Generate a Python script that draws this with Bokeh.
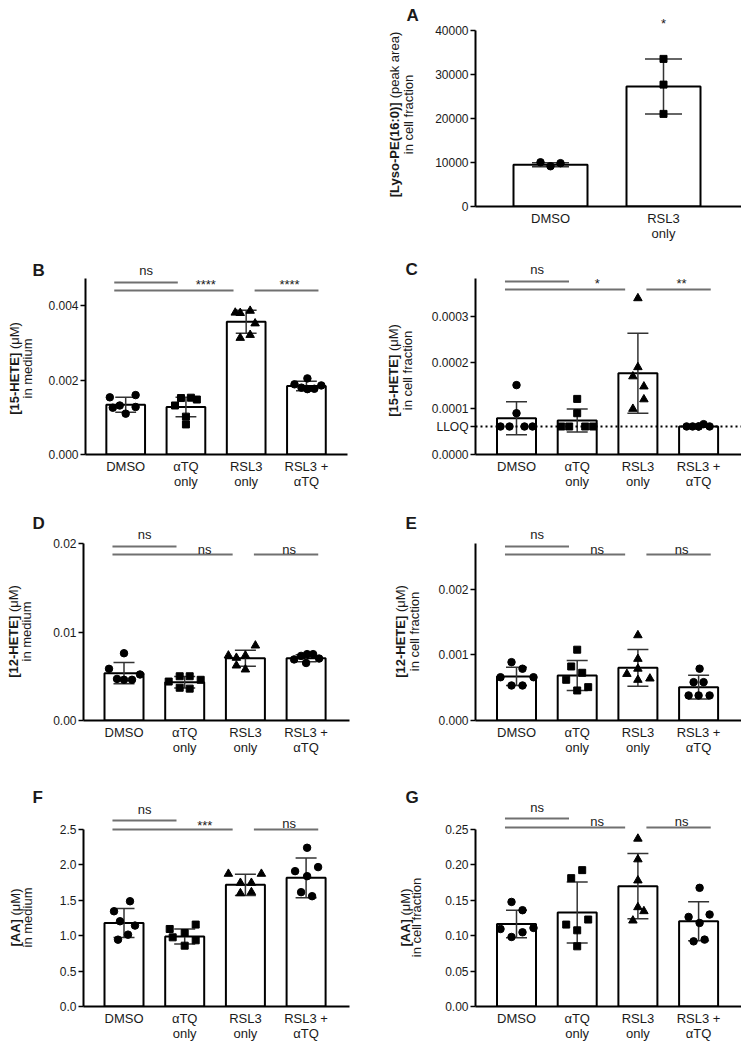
import math
from bokeh.plotting import figure
from bokeh.models import Range1d, Label, Spacer, FixedTicker
from bokeh.layouts import column, row
from bokeh.embed import file_html
from bokeh.resources import INLINE

FONT = "Liberation Sans"

# ---------------- data ----------------
cats4 = ["DMSO", "αTQ\nonly", "RSL3\nonly", "RSL3 +\nαTQ"]
catsA = ["DMSO", "RSL3\nonly"]

# Panel A  [Lyso-PE(16:0)] peak area
A_mean = [9500, 27300]
A_sd = [450, 6250]
A_pts = [[10050, 9150, 9850], [33550, 27700, 21050]]
A_ticks = [0, 10000, 20000, 30000, 40000]
A_tick_labels = ["0", "10000", "20000", "30000", "40000"]

# Panel B  [15-HETE] medium
B_mean = [0.00134, 0.00128, 0.003576, 0.001846]
B_sd = [0.00020, 0.00026, 0.00031, 0.00013]
B_pts = [[0.00154, 0.00160, 0.00132, 0.00128, 0.00126, 0.00110],
         [0.00132, 0.00152, 0.00153, 0.00148, 0.00102, 0.00081],
         [0.00382, 0.00381, 0.00387, 0.00353, 0.00314, 0.00322],
         [0.00189, 0.00180, 0.00205, 0.00176, 0.00177, 0.00186]]
B_ticks = [0, 0.002, 0.004]
B_tick_labels = ["0.000", "0.002", "0.004"]

# Panel C  [15-HETE] cell fraction
C_mean = [0.0000789, 0.0000739, 0.0001768, 0.0000612]
C_sd = [0.000036, 0.000025, 0.000087, 0.000002]
C_pts = [[0.000151, 0.0000898, 0.0000609, 0.0000609, 0.0000609, 0.0000609],
         [0.000121, 0.0000898, 0.0000609, 0.0000609, 0.0000609, 0.0000609],
         [0.00034, 0.00019, 0.00017, 0.000148, 0.00012, 0.0000993],
         [0.000061, 0.000061, 0.000061, 0.000066, 0.000061, 0.000061]]
C_ticks = [0, 0.0001, 0.0002, 0.0003]
C_tick_labels = ["0.0000", "0.0001", "0.0002", "0.0003"]
C_lloq = 0.0000609
C_lloq_label = "LLOQ"

# Panel D  [12-HETE] medium
D_mean = [0.00535, 0.00432, 0.00704, 0.00704]
D_sd = [0.0012, 0.00065, 0.0009, 0.0004]
D_pts = [[0.0076, 0.00584, 0.0052, 0.0047, 0.0046, 0.0046],
         [0.0050, 0.0050, 0.0044, 0.0046, 0.0037, 0.0036],
         [0.00734, 0.00708, 0.00734, 0.00847, 0.00621, 0.00576],
         [0.0069, 0.0073, 0.0075, 0.0075, 0.0070, 0.0065]]
D_ticks = [0, 0.01, 0.02]
D_tick_labels = ["0.00", "0.01", "0.02"]

# Panel E  [12-HETE] cell fraction
E_mean = [0.000672, 0.000687, 0.000804, 0.000509]
E_sd = [0.00014, 0.00023, 0.00028, 0.00018]
E_pts = [[0.00089, 0.00079, 0.00066, 0.00066, 0.000534, 0.000534],
         [0.00108, 0.000824, 0.000728, 0.000621, 0.000509, 0.000458],
         [0.0013, 0.00094, 0.00079, 0.00071, 0.00064, 0.00062],
         [0.00079, 0.000585, 0.000585, 0.000382, 0.000382, 0.000382]]
E_ticks = [0, 0.001, 0.002]
E_tick_labels = ["0.000", "0.001", "0.002"]

# Panel F  [AA] medium
F_mean = [1.18, 0.99, 1.718, 1.817]
F_sd = [0.205, 0.106, 0.15, 0.28]
F_pts = [[1.487, 1.345, 1.204, 1.143, 1.015, 0.944],
         [1.095, 1.157, 1.038, 0.977, 0.935, 0.859],
         [1.874, 1.874, 1.746, 1.746, 1.615, 1.600],
         [2.242, 1.912, 1.969, 1.841, 1.615, 1.558]]
F_ticks = [0, 0.5, 1.0, 1.5, 2.0, 2.5]
F_tick_labels = ["0.0", "0.5", "1.0", "1.5", "2.0", "2.5"]

# Panel G  [AA] cell fraction
G_mean = [0.1166, 0.1327, 0.170, 0.1204]
G_sd = [0.0195, 0.043, 0.046, 0.0276]
G_pts = [[0.1477, 0.136, 0.1095, 0.111, 0.1048, 0.0982],
         [0.1926, 0.1813, 0.1228, 0.1157, 0.1076, 0.085],
         [0.237, 0.2078, 0.178, 0.1402, 0.1346, 0.1214],
         [0.1676, 0.1265, 0.1299, 0.118, 0.092, 0.0945]]
G_ticks = [0, 0.05, 0.10, 0.15, 0.20, 0.25]
G_tick_labels = ["0.00", "0.05", "0.10", "0.15", "0.20", "0.25"]

sig_A = ["*"]
sig_B = ["ns", "****", "****"]
sig_C = ["ns", "*", "**"]
sig_D = ["ns", "ns", "ns"]
sig_E = ["ns", "ns", "ns"]
sig_F = ["ns", "***", "ns"]
sig_G = ["ns", "ns", "ns"]

# ---------------- layout constants (pixels) ----------------
J_A = [[-10, 0, 10], [0, 0, 0]]
J_B = [[-16, 10, -6, 10, -13, 0], [-11, -5, 5, 11, 0, 0], [-11, -6, 4, 9, -6, 4], [-12, -5, 1, 1, 8, 15]]
J_C = [[0, 0, -16, -7, 8, 16], [0, 0, -16, -8, 8, 16], [0, 0, -5, 6, 6, -5], [-12, -6, 0, 5, 11, 0]]
J_D = [[0, -15, 16, -7, 0, 8], [-5, 5, -16, 16, -5, 5], [-17, -9, 0, 10, -9, 0], [-12, -5, 1, 7, 13, 0]]
J_E = [[-5, 6, -16, 17, -5, 6], [0, -6, 5, -11, 11, 0], [0, 0, 0, -11, 12, 0], [1, -5, 5, -10, 0, 11]]
J_F = [[6, -10, -4, 11, 4, -6], [-15, 11, 0, -12, 11, 0], [-17, 16, -5, 6, 6, -5], [1, -11, 12, 1, -5, 6]]
J_G = [[-5, 6, -16, 17, 6, -5], [5, -6, 11, -11, 0, 0], [0, 0, 0, 0, 6, -5], [1, -10, 11, 1, -5, 6]]

MARK4 = ["circle", "square", "triangle", "circle"]
MARKA = ["circle", "square"]
MSIZE = {"circle": 7.5, "square": 7, "triangle": 8.5}

SIG_LINES_X = [(-0.19, 0.865), (-0.19, 1.79), (2.14, 3.2)]
SIG_TEXT_X = [0.34, 1.33, 2.72]

REG = {' ': 278, '(': 333, ')': 333, '[': 278, ']': 278, '-': 333, ':': 278, 'A': 667, 'E': 667,
       'H': 722, 'L': 556, 'M': 833, 'P': 667, 'T': 611, 'a': 556, 'c': 500, 'd': 556, 'e': 556,
       'f': 278, 'i': 222, 'k': 500, 'l': 222, 'm': 833, 'n': 556, 'o': 556, 'p': 556, 'r': 333,
       's': 500, 't': 278, 'u': 556, 'y': 500, 'μ': 576}
BOLD = {' ': 278, '(': 333, ')': 333, '[': 333, ']': 333, '-': 333, ':': 333, 'A': 722, 'E': 667,
        'H': 722, 'L': 611, 'P': 667, 'T': 611, 'y': 556, 's': 556, 'o': 611}


def tw(s, table, size):
    return sum(table.get(ch, 556) for ch in s) * size / 1000.0


EB_COLOR = "#333333"
SIG_COLOR = "#707070"
TXT = "#1a1a1a"


def label_fig(box, cfg):
    """Blank canvas holding the panel letter and the y title.
    Its frame shares top/bottom borders with the plot of the same row (Bokeh aligns them),
    so data coordinates are page pixels: x = page_x - ox, y = axis_y - page_y."""
    ox, oy, w, h = box
    ftop, ay = cfg["frame_top"], cfg["axis_y"]
    p = figure(width=w, height=h, x_range=Range1d(0, w), y_range=Range1d(0, ay - ftop),
               x_axis_location=None, y_axis_location=None,
               min_border_left=0, min_border_right=0, min_border_top=ftop - oy,
               min_border_bottom=oy + h - ay,
               output_backend="svg", toolbar_location=None, outline_line_color=None,
               background_fill_color="white", border_fill_color="white")
    p.grid.visible = False

    def PX(x):
        return x - ox

    def PY(y):
        return ay - y

    lx, ly = cfg["letter_pos"]
    p.add_layout(Label(x=PX(lx), y=PY(ly), text=cfg["letter"], text_font=FONT, text_font_size="17px",
                       text_font_style="bold", text_align="left", text_baseline="alphabetic",
                       text_color=TXT))
    size = 13
    bold, reg, line2 = cfg["ylab"]
    x1, x2 = cfg["ylab_x"]
    yc = cfg["ylab_yc"]
    wb, wsp, wr = tw(bold, BOLD, size), tw(" ", REG, size), tw(reg, REG, size)
    w2 = tw(line2, REG, size)
    start = yc + (wb + wsp + wr) / 2
    common = dict(angle=math.pi / 2, text_align="left", text_baseline="middle", text_font=FONT,
                  text_font_size=f"{size}px", text_color=TXT)
    p.add_layout(Label(x=PX(x1), y=PY(start), text=bold, text_font_style="bold", **common))
    p.add_layout(Label(x=PX(x1), y=PY(start - wb - wsp), text=reg, **common))
    p.add_layout(Label(x=PX(x2), y=PY(yc + w2 / 2), text=line2, **common))
    return p


def build(cfg):
    ox, oy, w, h = cfg["box"]
    ax, ay, atop, fr, ftop = cfg["axis_x"], cfg["axis_y"], cfg["axis_top"], cfg["frame_right"], cfg["frame_top"]
    c0, sp = cfg["c0"], cfg["sp"]
    ymax = cfg["ymax"]
    upp = ymax / (ay - atop)

    def X(px):
        return (px - c0) / sp

    def Y(py):
        return (ay - py) * upp

    p = figure(width=w, height=h, x_range=Range1d(X(ax), X(fr)), y_range=Range1d(0, Y(ftop)),
               min_border_left=ax - ox, min_border_right=ox + w - fr,
               min_border_top=ftop - oy, min_border_bottom=oy + h - ay,
               output_backend="svg", toolbar_location=None, outline_line_color=None,
               background_fill_color="white", border_fill_color="white")
    p.xgrid.visible = False
    p.ygrid.visible = False

    n = len(cfg["cats"])
    xs = list(range(n))
    bw = cfg["bar_px"] / sp
    cw = cfg["cap_px"] / sp
    means, sds = cfg["mean"], cfg["sd"]

    p.vbar(x=xs, top=means, width=bw, bottom=0, fill_color="white", line_color="black", line_width=2)
    p.segment(x0=xs, y0=[m - s for m, s in zip(means, sds)], x1=xs, y1=[m + s for m, s in zip(means, sds)],
              line_color=EB_COLOR, line_width=1.5)
    for sgn in (1, -1):
        yy = [m + sgn * s for m, s in zip(means, sds)]
        p.segment(x0=[x - cw for x in xs], y0=yy, x1=[x + cw for x in xs], y1=yy,
                  line_color=EB_COLOR, line_width=1.5)
    if "lloq" in cfg:
        lv = cfg["lloq"]
        p.segment(x0=[X(ax)], x1=[X(fr)], y0=[lv], y1=[lv], line_color="black", line_width=2,
                  line_dash="2 3")
    for i in xs:
        mk = cfg["markers"][i]
        px = [i + j / sp for j in cfg["jit"][i]]
        p.scatter(x=px, y=cfg["pts"][i], marker=mk, size=MSIZE[mk], fill_color="black", line_color="black")

    # axes
    ticks = list(cfg["ticks"])
    labels = list(cfg["tick_labels"])
    if "lloq" in cfg:
        ticks.append(cfg["lloq"])
        labels.append(cfg["lloq_label"])
    p.yaxis.bounds = (0, ymax)
    p.yaxis.ticker = FixedTicker(ticks=ticks)
    p.yaxis.major_label_overrides = {t: l for t, l in zip(ticks, labels)}
    p.yaxis.axis_line_width = 2
    p.yaxis.major_tick_line_width = 1.5
    p.yaxis.major_tick_out = 5
    p.yaxis.major_tick_in = 0
    p.yaxis.minor_tick_out = 0
    p.yaxis.minor_tick_in = 0
    p.yaxis.major_label_standoff = 2
    p.yaxis.major_label_text_font = FONT
    p.yaxis.major_label_text_font_size = "12px"
    p.yaxis.major_label_text_color = TXT

    p.xaxis.ticker = FixedTicker(ticks=xs)
    p.xaxis.major_label_overrides = {i: c for i, c in enumerate(cfg["cats"])}
    p.xaxis.axis_line_width = 2
    p.xaxis.major_tick_line_color = None
    p.xaxis.minor_tick_line_color = None
    p.xaxis.major_tick_out = 0
    p.xaxis.major_tick_in = 0
    p.xaxis.major_label_standoff = 4
    p.xaxis.major_label_text_font = FONT
    p.xaxis.major_label_text_font_size = "13px"
    p.xaxis.major_label_text_line_height = 1.05
    p.xaxis.major_label_text_color = TXT

    # significance bars
    if "sig_lines" in cfg:
        l1, l2 = cfg["sig_lines"]
        t1, t2, t3 = cfg["sig_text_y"]
        ys = [Y(ay - l1), Y(ay - l2), Y(ay - l2)]
        p.segment(x0=[a for a, b in SIG_LINES_X], x1=[b for a, b in SIG_LINES_X], y0=ys, y1=ys,
                  line_color=SIG_COLOR, line_width=2)
        for tx, ty, txt in zip(SIG_TEXT_X, (t1, t2, t3), cfg["sig"]):
            p.add_layout(Label(x=tx, y=Y(ay - ty), text=txt, text_align="center", text_baseline="alphabetic",
                               text_font=FONT, text_font_size="13px", text_color=TXT))
    if "star" in cfg:
        sx, sy = cfg["star"]
        p.add_layout(Label(x=sx, y=Y(ay - sy), text=cfg["sig"][0], text_align="center",
                           text_baseline="alphabetic", text_font=FONT, text_font_size="13px", text_color=TXT))
    return p


common4 = dict(cats=cats4, markers=MARK4, sp=60.7, bar_px=39, cap_px=10.5)

# (x, width) of the label strip and of the plot, per column
LEFT_LAB, LEFT_PLOT = (0, 45), (45, 327)
RIGHT_LAB, RIGHT_PLOT = (372, 54), (426, 315)

cfgA = dict(cats=catsA, markers=MARKA, row=(0, 245), col="R", axis_x=475, axis_y=206, axis_top=30,
            frame_right=741, frame_top=2, c0=550, sp=113, bar_px=74, cap_px=18.5, ymax=40000,
            mean=A_mean, sd=A_sd, pts=A_pts, jit=J_A, ticks=A_ticks, tick_labels=A_tick_labels,
            letter="A", letter_pos=(406, 15), ylab=("[Lyso-PE(16:0)]", "(peak area)", "in cell fraction"),
            ylab_x=(394, 408), ylab_yc=114, star=(1, 183), sig=sig_A)

cfgB = dict(common4, row=(245, 255), col="L", axis_x=83, axis_y=454, axis_top=278, frame_right=347,
            frame_top=247, c0=123.5, ymax=0.00474, mean=B_mean, sd=B_sd, pts=B_pts, jit=J_B,
            ticks=B_ticks, tick_labels=B_tick_labels, letter="B", letter_pos=(32, 270),
            ylab=("[15-HETE]", "(μM)", "in medium"), ylab_x=(14, 27), ylab_yc=368,
            sig=sig_B, sig_lines=(172, 164), sig_text_y=(184, 170, 170))

cfgC = dict(common4, row=(245, 255), col="R", axis_x=475, axis_y=454, axis_top=278, frame_right=741,
            frame_top=247, c0=516, ymax=0.000383, mean=C_mean, sd=C_sd, pts=C_pts, jit=J_C,
            ticks=C_ticks, tick_labels=C_tick_labels, letter="C", letter_pos=(405, 269),
            ylab=("[15-HETE]", "(μM)", "in cell fraction"), ylab_x=(393, 407), ylab_yc=370,
            sig=sig_C, sig_lines=(173, 165), sig_text_y=(185, 171, 171), lloq=C_lloq, lloq_label=C_lloq_label)

cfgD = dict(common4, row=(500, 282), col="L", axis_x=83, axis_y=720, axis_top=543, frame_right=349,
            frame_top=502, c0=123.5, ymax=0.02, mean=D_mean, sd=D_sd, pts=D_pts, jit=J_D,
            ticks=D_ticks, tick_labels=D_tick_labels, letter="D", letter_pos=(32, 523),
            ylab=("[12-HETE]", "(μM)", "in medium"), ylab_x=(13, 26), ylab_yc=631,
            sig=sig_D, sig_lines=(174, 166), sig_text_y=(186, 171, 171))

cfgE = dict(common4, row=(500, 282), col="R", axis_x=475, axis_y=720, axis_top=543, frame_right=741,
            frame_top=502, c0=516, ymax=0.0027, mean=E_mean, sd=E_sd, pts=E_pts, jit=J_E,
            ticks=E_ticks, tick_labels=E_tick_labels, letter="E", letter_pos=(405, 523),
            ylab=("[12-HETE]", "(μM)", "in cell fraction"), ylab_x=(400, 414), ylab_yc=631,
            sig=sig_E, sig_lines=(174, 166), sig_text_y=(186, 171, 171))

cfgF = dict(common4, row=(782, 263), col="L", axis_x=83, axis_y=1006, axis_top=829, frame_right=349,
            frame_top=784, c0=123.5, ymax=2.5, mean=F_mean, sd=F_sd, pts=F_pts, jit=J_F,
            ticks=F_ticks, tick_labels=F_tick_labels, letter="F", letter_pos=(32, 797),
            ylab=("[AA]", "(μM)", "in medium"), ylab_x=(15, 27), ylab_yc=917,
            sig=sig_F, sig_lines=(186, 177), sig_text_y=(197, 181, 183))

cfgG = dict(common4, row=(782, 263), col="R", axis_x=475, axis_y=1006, axis_top=829, frame_right=741,
            frame_top=784, c0=516, ymax=0.25, mean=G_mean, sd=G_sd, pts=G_pts, jit=J_G,
            ticks=G_ticks, tick_labels=G_tick_labels, letter="G", letter_pos=(405, 797),
            ylab=("[AA]", "(μM)", "in cell fraction"), ylab_x=(405, 416), ylab_yc=917,
            sig=sig_G, sig_lines=(188, 179), sig_text_y=(199, 185, 185))


def panel(cfg):
    oy, h = cfg["row"]
    lab, plot = (LEFT_LAB, LEFT_PLOT) if cfg["col"] == "L" else (RIGHT_LAB, RIGHT_PLOT)
    cfg = dict(cfg, box=(plot[0], oy, plot[1], h))
    return [label_fig((lab[0], oy, lab[1], h), cfg), build(cfg)]


rows = [
    row(Spacer(width=372, height=245), *panel(cfgA), spacing=0),
    row(*panel(cfgB), *panel(cfgC), spacing=0),
    row(*panel(cfgD), *panel(cfgE), spacing=0),
    row(*panel(cfgF), *panel(cfgG), spacing=0),
]
layout = column(*rows, spacing=0)

open("out.html", "w").write(file_html(layout, INLINE))
